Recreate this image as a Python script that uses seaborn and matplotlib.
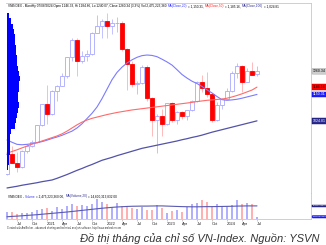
import numpy as np
import pandas as pd
import matplotlib
matplotlib.use("Agg")
import matplotlib.pyplot as plt
import seaborn as sns

# ---------------- data (monthly VN-Index, May 2020 .. Jul 2024) ----------------
months = pd.period_range("2020-05", "2024-07", freq="M").astype(str).tolist()
opens = [769, 864, 825, 805, 880, 906, 925, 1004, 1104, 1056, 1168, 1191, 1239, 1328, 1408, 1310, 1331,
         1342, 1444, 1478, 1498, 1478, 1490, 1492, 1366, 1293, 1198, 1206, 1280, 1132, 1028, 1049, 1007,
         1111, 1026, 1064, 1049, 1075, 1120, 1207, 1180, 1154, 1028, 1102, 1130, 1164, 1252, 1284, 1210,
         1262, 1246]
highs = [870, 904, 876, 884, 915, 935, 1005, 1105, 1194, 1170, 1194, 1250, 1330, 1420, 1420, 1358, 1360,
         1446, 1530, 1510, 1536, 1510, 1520, 1500, 1370, 1310, 1215, 1290, 1290, 1140, 1058, 1080, 1111,
         1112, 1070, 1070, 1076, 1125, 1212, 1245, 1255, 1155, 1115, 1135, 1180, 1260, 1300, 1290, 1275,
         1305, 1285]
lows = [768, 821, 780, 800, 870, 900, 920, 1000, 1009, 1050, 1120, 1190, 1228, 1310, 1237, 1300, 1310,
        1340, 1444, 1420, 1420, 1440, 1450, 1355, 1170, 1186, 1150, 1200, 1120, 950, 873, 950, 1005,
        1020, 1008, 1035, 1030, 1070, 1115, 1160, 1140, 1020, 1025, 1080, 1130, 1160, 1230, 1160, 1210,
        1245, 1240]
closes = [864, 825, 805, 880, 906, 925, 1004, 1104, 1056, 1168, 1191, 1239, 1328, 1408, 1310, 1331, 1342,
          1444, 1478, 1498, 1478, 1490, 1492, 1366, 1293, 1198, 1206, 1280, 1132, 1028, 1049, 1007, 1111,
          1026, 1064, 1049, 1075, 1120, 1207, 1180, 1154, 1028, 1102, 1130, 1164, 1252, 1284, 1210, 1262,
          1245, 1260]
volumes = [7.5, 8.0, 6.0, 7.0, 6.5, 7.5, 9.5, 11.5, 12.5, 9.0, 13.0, 11.5, 14.0, 17.0, 15.0, 16.0, 14.5,
           17.0, 22.0, 19.0, 17.0, 13.0, 17.5, 15.0, 14.0, 12.0, 11.0, 13.5, 10.5, 10.0, 15.5, 12.5, 7.0,
           9.0, 10.0, 8.0, 13.5, 17.0, 17.5, 21.0, 18.5, 14.0, 16.5, 14.0, 15.0, 16.0, 21.0, 17.0, 17.5,
           17.0, 2.5]
ma20 = [933, 922, 912, 910, 912, 915, 920, 925, 932, 940, 947, 955, 965, 975, 990, 1010, 1035, 1060, 1090,
        1130, 1175, 1220, 1255, 1280, 1300, 1315, 1327, 1335, 1338, 1336, 1330, 1318, 1305, 1290, 1268,
        1245, 1228, 1213, 1202, 1188, 1172, 1157, 1140, 1125, 1122, 1124, 1127, 1132, 1138, 1144, 1150]
ma50 = [870, 878, 886, 895, 904, 913, 920, 928, 936, 944, 952, 962, 975, 990, 1005, 1018, 1028, 1036, 1042,
        1048, 1054, 1059, 1064, 1068, 1072, 1076, 1079, 1082, 1085, 1088, 1091, 1094, 1097, 1100, 1103,
        1106, 1109, 1112, 1116, 1119, 1122, 1124, 1126, 1128, 1132, 1138, 1145, 1153, 1162, 1171, 1185]
ma100 = [704, 708, 712, 717, 721, 725, 729, 734, 738, 742, 750, 759, 768, 778, 788, 797, 807, 816, 826,
         836, 843, 850, 858, 865, 872, 879, 886, 893, 898, 903, 908, 913, 918, 923, 928, 934, 939, 945,
         950, 956, 963, 970, 976, 982, 988, 994, 1000, 1006, 1012, 1018, 1024]
vol_ma20 = [2.5, 2.9, 3.2, 3.6, 4.0, 4.4, 4.8, 5.3, 5.8, 6.3, 6.8, 7.3, 7.8, 8.4, 9.0, 9.6, 10.2, 10.8,
            11.4, 12.0, 12.5, 13.0, 13.4, 13.7, 14.0, 14.2, 14.3, 14.4, 14.4, 14.5, 14.6, 14.6, 14.4, 14.2,
            14.0, 13.8, 13.7, 13.6, 13.6, 13.7, 13.8, 13.8, 13.9, 14.0, 14.1, 14.2, 14.4, 14.5, 14.6, 14.6,
            14.6]
profile_prices = [800, 825, 850, 875, 900, 925, 950, 975, 1000, 1025, 1050, 1075, 1100, 1125, 1150, 1175,
                  1200, 1225, 1250, 1275, 1300, 1325, 1350, 1375, 1400, 1425, 1450, 1475, 1500, 1525]
profile_volume = [1, 2, 2, 3, 3, 3, 3, 4, 8, 9, 10, 11, 12, 11, 11, 12, 12, 13, 12, 11, 10, 10, 9, 9, 8,
                  8, 7, 6, 4, 2]
tick_months = ["2020-07", "2020-10", "2021-01", "2021-04", "2021-07", "2021-10", "2022-01", "2022-04",
               "2022-07", "2022-10", "2023-01", "2023-04", "2023-07", "2023-10", "2024-01", "2024-04",
               "2024-07"]
tick_labels = ["Jul", "Oct", "2021", "Apr", "Jul", "Oct", "2022", "Apr", "Jul", "Oct", "2023", "Apr", "Jul",
               "Oct", "2024", "Apr", "Jul"]
title_parts = [("VNINDEX - Monthly 07/08/2024 Open 1246.33, Hi 1284.86, Lo 1240.07, Close 1260.34 (3.3%) "
                "Vol 2,475,223,360 ", "#000000"),
               ("MA(Close,20)", "#3030ff"), (" = 1,150.31, ", "#000000"),
               ("MA(Close,50)", "#ff2020"), (" = 1,185.16, ", "#000000"),
               ("MA(Close,100)", "#303090"), (" = 1,024.81", "#000000")]
vol_title_parts = [("VNINDEX - ", "#000000"), ("Volume", "#3030ff"), (" = 2,475,223,360.00, ", "#000000"),
                   ("MA(Volume,20)", "#303090"), (" = 14,600,313,832.00", "#000000")]
credit = "Created with AmiBroker - advanced charting and technical analysis software. http://www.amibroker.com"
caption = "Đồ thị tháng của chỉ số VN-Index. Nguồn: YSVN"
last_close = 1260.34
ma_last = {"ma20": 1150.31, "ma50": 1185.16, "ma100": 1024.81}
vol_last = 2475223360
vol_ma_last = 14600313832

# ---------------- figure ----------------
W, H = 326, 245
sns.set_theme(style="white")
plt.rcParams['font.family'] = ['Liberation Sans', 'DejaVu Sans']
fig = plt.figure(figsize=(W / 100, H / 100), dpi=100)
fig.patch.set_facecolor("white")


def fx(x):
    return x / W


def fy(y):
    return 1 - y / H


PL, PR, PT, PB, VB = 6, 311, 3, 193, 219
XLIM = (-0.2, 60.8)
ax = fig.add_axes([fx(PL), fy(PB), fx(PR) - fx(PL), fy(PT) - fy(PB)])
axv = fig.add_axes([fx(PL), fy(VB), fx(PR) - fx(PL), fy(PB) - fy(VB)])

idx = np.arange(len(months))
pos = {m: i for i, m in enumerate(months)}
o = np.array(opens, float); c = np.array(closes, float)
hi = np.array(highs, float); lo = np.array(lows, float)
up = c >= o

# candles
wick_col = np.where(up, "#b8b8ff", "#ffb0b0")
ax.vlines(idx, lo, hi, colors=wick_col, lw=0.6, zorder=2)
bottoms = np.minimum(o, c)
heights = np.maximum(np.abs(c - o), 2.5)
ax.bar(idx, heights, bottom=bottoms, width=0.68,
       color=np.where(up, "#ffffff", "#ff0000"),
       edgecolor=np.where(up, "#a8a8ff", "#ff0000"), linewidth=0.6, zorder=3)

# moving averages
sns.lineplot(x=idx, y=ma20, ax=ax, color="#7b7bff", lw=0.8, zorder=4)
sns.lineplot(x=idx, y=ma50, ax=ax, color="#ff6a6a", lw=0.8, zorder=4)
sns.lineplot(x=idx, y=ma100, ax=ax, color="#5252a8", lw=0.9, zorder=4)

ax.set_xlim(*XLIM)
ax.set_ylim(680, 1586)
ax.set_xticks([]); ax.set_yticks([])
ax.set_xlabel(""); ax.set_ylabel("")
ax.spines["left"].set_visible(False)
for s in ["top", "right", "bottom"]:
    ax.spines[s].set_color("#c8c8c8"); ax.spines[s].set_linewidth(0.6)

# right-side value labels
ytr = ax.get_yaxis_transform()
lab_kw = dict(transform=ytr, fontsize=2.5, va="center", ha="left", clip_on=False)
ax.text(1.006, last_close, f"{last_close:.2f}", color="#000000",
        bbox=dict(boxstyle="round,pad=0.25", fc="#cfcfcf", ec="#a0a0a0", lw=0.3), **lab_kw)
ax.text(1.006, ma_last["ma50"], f"{ma_last['ma50']:.2f}", color="#000000",
        bbox=dict(boxstyle="square,pad=0.25", fc="#ff0000", ec="#c00000", lw=0.3), **lab_kw)
ax.text(1.006, ma_last["ma20"], f"{ma_last['ma20']:.2f}", color="#ffffff",
        bbox=dict(boxstyle="square,pad=0.25", fc="#2020ff", ec="#0000c0", lw=0.3), **lab_kw)
ax.text(1.006, ma_last["ma100"], f"{ma_last['ma100']:.2f}", color="#ffffff",
        bbox=dict(boxstyle="square,pad=0.25", fc="#2a2a90", ec="#101060", lw=0.3), **lab_kw)

# volume-at-price profile on the left
axp = fig.add_axes([fx(7), fy(PB), 13 / W, fy(PT) - fy(PB)])
axp.patch.set_alpha(0)
axp.barh(profile_prices, profile_volume, height=25, color="#0000ff", align="center", linewidth=0)
axp.set_xlim(0, 13)
axp.set_ylim(680, 1586)
axp.axis("off")

# volume panel
axv.bar(idx, volumes, width=0.34, color=np.where(up, "#b0b0ff", "#ffb0b0"), linewidth=0, zorder=2)
sns.lineplot(x=idx, y=vol_ma20, ax=axv, color="#5a5ab0", lw=0.8, zorder=3)
axv.set_xlim(*XLIM)
axv.set_ylim(0, 29)
axv.set_yticks([])
axv.set_xlabel(""); axv.set_ylabel("")
axv.set_xticks([pos[m] for m in tick_months])
axv.set_xticklabels(tick_labels, ha="left", fontsize=2.9, color="#202020")
axv.tick_params(axis="x", length=1.5, width=0.4, color="#a0a0a0", pad=0.6, bottom=True)
axv.spines["left"].set_visible(False)
axv.spines["top"].set_visible(False)
for s in ["right", "bottom"]:
    axv.spines[s].set_color("#c8c8c8"); axv.spines[s].set_linewidth(0.6)
vtr = axv.get_yaxis_transform()
axv.text(1.006, vol_ma_last / 1e9, f"{vol_ma_last}", transform=vtr, fontsize=1.6, va="center",
         ha="left", color="#ffffff", clip_on=False,
         bbox=dict(boxstyle="square,pad=0.3", fc="#2a2a90", ec="#101060", lw=0.3))
axv.text(1.006, vol_last / 1e9, f"{vol_last}", transform=vtr, fontsize=1.75, va="center",
         ha="left", color="#ffffff", clip_on=False,
         bbox=dict(boxstyle="round,pad=0.3", fc="#2020ff", ec="#0000c0", lw=0.3))

# ---------------- texts ----------------
fig.canvas.draw()
R = fig.canvas.get_renderer()


def text_width(s, size, **kw):
    t = fig.text(0, 0, s + "|", fontsize=size, **kw)
    w = t.get_window_extent(R).width
    t.remove()
    t = fig.text(0, 0, "|", fontsize=size, **kw)
    w -= t.get_window_extent(R).width
    t.remove()
    return w


def fitted_parts(x0, y, parts, target_w, **kw):
    full = "".join(s for s, _ in parts)
    size = 10 * target_w / text_width(full, 10, **kw)
    prefix = ""
    for s, col in parts:
        x = x0 + (text_width(prefix, size, **kw) if prefix else 0)
        fig.text(fx(x), fy(y), s, fontsize=size, color=col, va="center", ha="left", **kw)
        prefix += s


fitted_parts(8, 6.5, title_parts, 273)
fitted_parts(8, 196.5, vol_title_parts, 107)
fitted_parts(7, 228, [(credit, "#303030")], 116)
fitted_parts(80, 238.5, [(caption, "#333333")], 240, style="italic")

fig.savefig("out.png", dpi=100, facecolor="white")
